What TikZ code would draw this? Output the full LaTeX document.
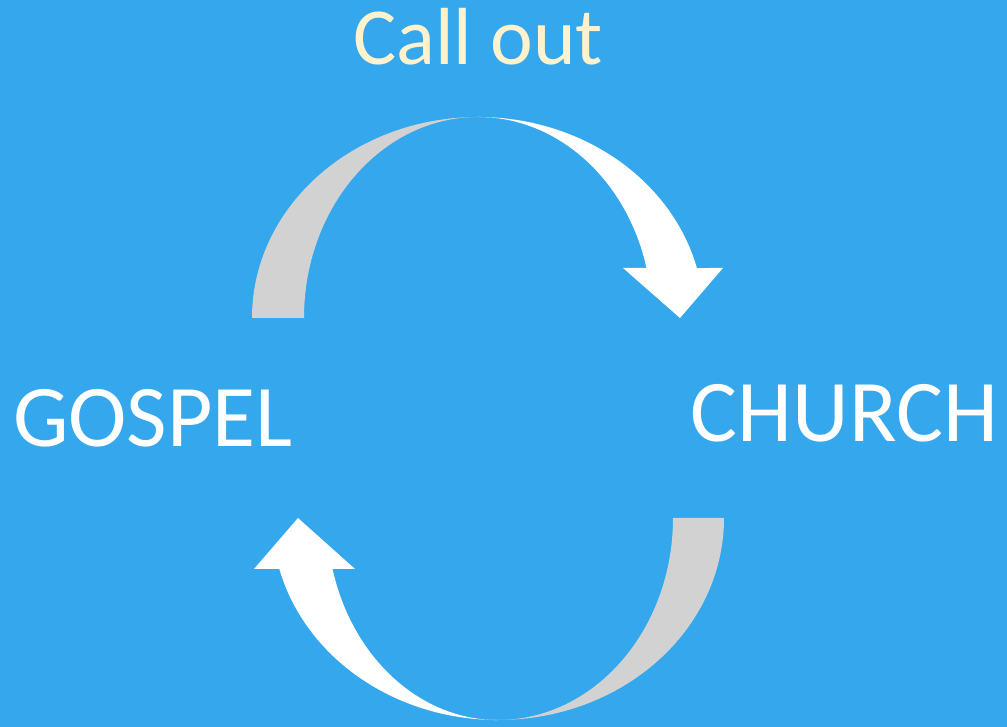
\documentclass[tikz,border=0pt]{standalone}
\usepackage{fontspec}
\setmainfont{Carlito}
\definecolor{slideblue}{RGB}{53,167,236}
\definecolor{backgray}{RGB}{210,210,210}
\definecolor{cream}{RGB}{255,242,204}
\newcommand\bigtext{\fontsize{88}{92}\selectfont}
\begin{document}
\begin{tikzpicture}[x=1pt,y=1pt,every node/.style={inner sep=0pt,text=white,font=\bigtext}]
	%% background of the slide
	\fill[slideblue] (0,0) rectangle (1007,727);
	\useasboundingbox (0,0) rectangle (1007,727);

	\def\ry{201} % vertical radius of the arrows
	\def\rout{226} % outer radius
	\def\rin{174} % inner radius
	\def\angHead{14.4} % where the head starts

	%% upper arrow, centre (478,409)
	\fill[backgray] (252,409) arc[start angle=180,end angle=90,x radius=\rout,y radius=\ry]
		arc[start angle=90,end angle=180,x radius=\rin,y radius=\ry] -- cycle;
	\fill[white] (478,610) arc[start angle=90,end angle=\angHead,x radius=\rout,y radius=\ry]
		-- (723,459) -- (680,409) -- (623,459)
		-- ({478+\rin*cos(\angHead)},459)
		arc[start angle=\angHead,end angle=90,x radius=\rin,y radius=\ry] -- cycle;

	%% lower arrow, centre (498,209)
	\fill[backgray] (724,209) arc[start angle=0,end angle=-90,x radius=\rout,y radius=202]
		arc[start angle=-90,end angle=0,x radius=175,y radius=202] -- cycle;
	\fill[white] (498,7) arc[start angle=270,end angle=194.6,x radius=\rout,y radius=202]
		-- (254,158) -- (298,209) -- (355,158)
		-- ({498-171*cos(14.6)},158)
		arc[start angle=194.6,end angle=270,x radius=171,y radius=202] -- cycle;

	%% labels
	\node[anchor=base,text=cream,font=\fontsize{81}{85}\selectfont] (callout) at (478,662) {Call out};
	\node[anchor=base west] (gospel) at (13,280) {GOSPEL};
	\node[anchor=base east] (church) at (998,285) {CHURCH};
\end{tikzpicture}
\end{document}
